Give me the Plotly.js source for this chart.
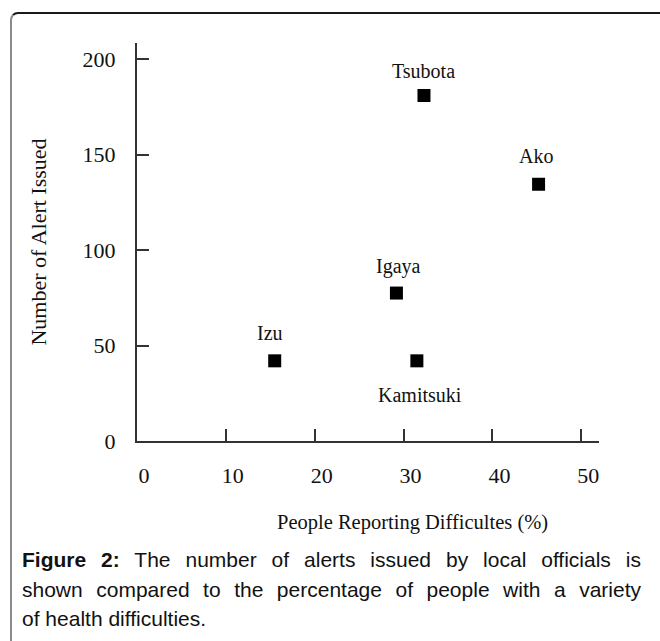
<!DOCTYPE html>
<html>
<head>
<meta charset="utf-8">
<script src="https://cdn.plot.ly/plotly-3.0.1.min.js"></script>
<style>
  html, body { margin: 0; padding: 0; background: #fff; }
  #wrap { position: relative; width: 660px; height: 641px; overflow: hidden; }
  #chart { position: absolute; left: 0; top: 0; width: 660px; height: 641px; }
  #frame { position: absolute; left: 10px; top: 12px; width: 700px; height: 700px;
           border-top: 2px solid #1a1a1a; border-left: 2px solid #8a8a8a;
           border-top-left-radius: 8px; pointer-events: none; box-sizing: border-box; }
  #caption { position: absolute; left: 22px; top: 545px; width: 619px;
             font-family: "Liberation Sans", Arial, sans-serif; font-size: 21px;
             line-height: 29.5px; color: #111; }
  #caption .j { text-align: justify; text-align-last: justify; white-space: nowrap; }
  #caption .l { text-align: left; }
</style>
</head>
<body>
<div id="wrap">
  <div id="chart"></div>
  <div id="frame"></div>
  <div id="caption">
    <div class="j"><b>Figure 2:</b> The number of alerts issued by local officials is</div>
    <div class="j">shown compared to the percentage of people with a variety</div>
    <div class="l">of health difficulties.</div>
  </div>
</div>
<script>
// ---- data ----
const sites = ["Tsubota", "Ako", "Igaya", "Izu", "Kamitsuki"];
const peoplePct = [32.3, 45.2, 29.2, 15.5, 31.5];
const alerts = [181, 134.5, 77.5, 42, 42];
const xTickVals = [0, 10, 20, 30, 40, 50];
const yTickVals = [0, 50, 100, 150, 200];
const xTitle = "People Reporting Difficultes (%)";
const yTitle = "Number of Alert Issued";

// label placement (style only)
const labelDY = [24, 28, 27, 28, -34];
const labelDX = [0, -3, 2, -5, 3];

const serif = "Liberation Serif, Times New Roman, serif";

const trace = {
  type: "scatter",
  mode: "markers",
  x: peoplePct,
  y: alerts,
  marker: { symbol: "square", size: 13, color: "#000" },
  hoverinfo: "x+y"
};

const annotations = sites.map((s, i) => ({
  x: peoplePct[i], y: alerts[i], xref: "x", yref: "y",
  text: s, showarrow: false,
  xshift: labelDX[i], yshift: labelDY[i],
  font: { family: serif, size: 20, color: "#111" }
}));
annotations.push({
  x: 0.597, y: 0, xref: "paper", yref: "paper",
  xanchor: "center", yanchor: "middle", yshift: -81,
  text: xTitle, showarrow: false,
  font: { family: serif, size: 20.5, color: "#111" }
});

const layout = {
  width: 660, height: 641,
  margin: { l: 137, r: 61, t: 43, b: 200 },
  paper_bgcolor: "rgba(0,0,0,0)",
  plot_bgcolor: "rgba(0,0,0,0)",
  showlegend: false,
  xaxis: {
    range: [0, 52],
    tickvals: xTickVals,
    ticktext: xTickVals.map(String),
    showgrid: false, zeroline: false,
    showline: true, linecolor: "#333", linewidth: 2,
    ticks: "inside", ticklen: 12, tickwidth: 2, tickcolor: "#333",
    ticklabelstandoff: 14,
    ticklabelshift: 7,
    tickfont: { family: serif, size: 22, color: "#111" }
  },
  yaxis: {
    range: [0, 208.5],
    tickvals: yTickVals,
    ticktext: yTickVals.map(String),
    showgrid: false, zeroline: false,
    showline: true, linecolor: "#333", linewidth: 2,
    ticks: "inside", ticklen: 12, tickwidth: 2, tickcolor: "#333",
    ticklabelstandoff: 15,
    tickfont: { family: serif, size: 22, color: "#111" },
    title: { text: yTitle, standoff: 30,
             font: { family: serif, size: 22, color: "#111" } }
  },
  annotations: annotations
};

Plotly.newPlot("chart", [trace], layout, { displayModeBar: false, staticPlot: true });
</script>
</body>
</html>
